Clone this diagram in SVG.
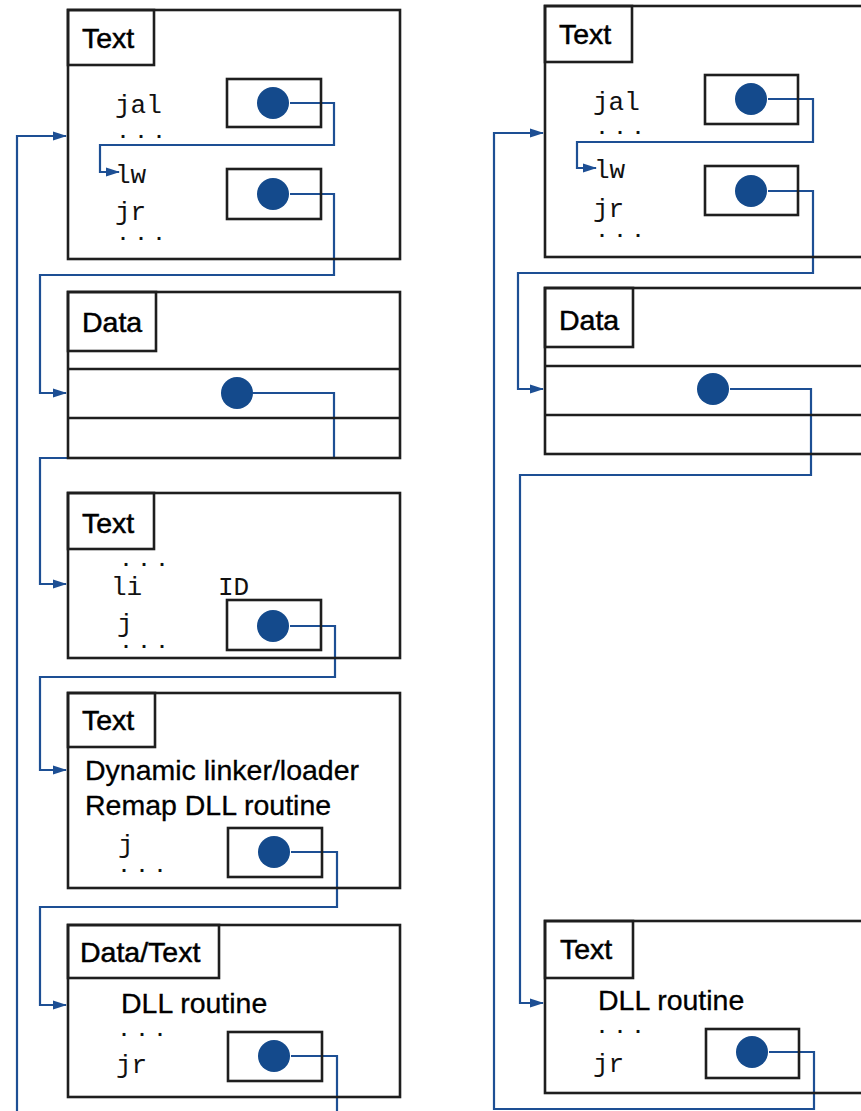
<svg xmlns="http://www.w3.org/2000/svg" width="861" height="1111" viewBox="0 0 861 1111">
<defs>
<style>
.box{fill:none;stroke:#1e1e1e;stroke-width:2.6}
.lbl{font-family:"Liberation Sans",Arial,sans-serif;font-size:28.5px;fill:#000;stroke:#000;stroke-width:0.5}
.txt{font-family:"Liberation Sans",Arial,sans-serif;font-size:28.5px;fill:#000;stroke:#000;stroke-width:0.3}
.code{font-family:"Liberation Mono","DejaVu Sans Mono",monospace;font-size:26px;fill:#111}
.dots{font-family:"Liberation Mono","DejaVu Sans Mono",monospace;font-size:20px;fill:#111;letter-spacing:6px;font-weight:bold}
.dot{fill:#144a8c}
.wire{fill:none;stroke:#1d4f94;stroke-width:2.2}
</style>
<marker id="ah" markerWidth="14" markerHeight="10" refX="13" refY="5" orient="auto" markerUnits="userSpaceOnUse">
<path d="M0,0.5 L14,5 L0,9.5 z" fill="#1d4f94"/>
</marker>
</defs>
<rect width="861" height="1111" fill="#fff"/>

<g id="connectors">
<path class="wire" d="M17,1111 V136 H66" marker-end="url(#ah)"/>
<path class="wire" d="M290,103 H334 V145 H100 V172 H119" marker-end="url(#ah)"/>
<path class="wire" d="M290,194 H334 V275 H40 V393 H66" marker-end="url(#ah)"/>
<path class="wire" d="M253,393 H334 V458 H40 V584 H66" marker-end="url(#ah)"/>
<path class="wire" d="M290,626 H335 V677 H40 V770 H66" marker-end="url(#ah)"/>
<path class="wire" d="M291,852 H337 V907 H40 V1005 H66" marker-end="url(#ah)"/>
<path class="wire" d="M291,1056 H337 V1111"/>
<path class="wire" d="M768,99 H813 V142 H577 V168 H596" marker-end="url(#ah)"/>
<path class="wire" d="M768,191 H813 V273 H518 V389 H543" marker-end="url(#ah)"/>
<path class="wire" d="M730,389 H811 V475 H520 V1003 H543" marker-end="url(#ah)"/>
<path class="wire" d="M769,1052 H814 V1109 H494 V133 H543" marker-end="url(#ah)"/>
</g>

<g id="L1">
<rect class="box" x="68" y="10" width="332" height="249"/>
<rect class="box" x="68" y="10" width="86" height="55"/>
<text class="lbl" x="82" y="48">Text</text>
<text class="code" x="115" y="113">jal</text>
<text class="dots" x="117" y="138">...</text>
<text class="code" x="115" y="183">lw</text>
<text class="code" x="115" y="220">jr</text>
<text class="dots" x="117" y="240">...</text>
<rect class="box" x="227" y="79" width="94" height="48"/>
<circle class="dot" cx="273" cy="103" r="16"/>
<rect class="box" x="227" y="169" width="94" height="50"/>
<circle class="dot" cx="273" cy="194" r="16"/>
</g>

<g id="L2">
<rect class="box" x="68" y="292" width="332" height="166"/>
<rect class="box" x="68" y="292" width="88" height="59"/>
<line class="box" x1="68" y1="369" x2="400" y2="369"/>
<line class="box" x1="68" y1="418" x2="400" y2="418"/>
<text class="lbl" x="82" y="332">Data</text>
<circle class="dot" cx="237" cy="393" r="16"/>
</g>

<g id="L3">
<rect class="box" x="68" y="493" width="332" height="165"/>
<rect class="box" x="68" y="493" width="86" height="56"/>
<text class="lbl" x="82" y="533">Text</text>
<text class="dots" x="120" y="566">...</text>
<text class="code" x="111" y="595">li</text>
<text class="code" x="218" y="595">ID</text>
<text class="code" x="117" y="632">j</text>
<text class="dots" x="120" y="648">...</text>
<rect class="box" x="227" y="600" width="94" height="50"/>
<circle class="dot" cx="273" cy="626" r="16"/>
</g>

<g id="L4">
<rect class="box" x="68" y="693" width="332" height="195"/>
<rect class="box" x="68" y="693" width="87" height="54"/>
<text class="lbl" x="82" y="730">Text</text>
<text class="txt" x="85" y="780">Dynamic linker/loader</text>
<text class="txt" x="85" y="815">Remap DLL routine</text>
<text class="code" x="118" y="853">j</text>
<text class="dots" x="118" y="872">...</text>
<rect class="box" x="228" y="828" width="94" height="49"/>
<circle class="dot" cx="274" cy="852" r="16"/>
</g>

<g id="L5">
<rect class="box" x="68" y="925" width="332" height="172"/>
<rect class="box" x="68" y="925" width="151" height="53"/>
<text class="lbl" x="80" y="962">Data/Text</text>
<text class="txt" x="121" y="1013">DLL routine</text>
<text class="dots" x="118" y="1036">...</text>
<text class="code" x="116" y="1073">jr</text>
<rect class="box" x="228" y="1032" width="94" height="49"/>
<circle class="dot" cx="274" cy="1056" r="16"/>
</g>

<g id="R1">
<rect class="box" x="545" y="6" width="360" height="251"/>
<rect class="box" x="545" y="6" width="87" height="56"/>
<text class="lbl" x="559" y="44">Text</text>
<text class="code" x="593" y="110">jal</text>
<text class="dots" x="596" y="134">...</text>
<text class="code" x="594" y="178">lw</text>
<text class="code" x="593" y="217">jr</text>
<text class="dots" x="596" y="237">...</text>
<rect class="box" x="705" y="75" width="93" height="49"/>
<circle class="dot" cx="751" cy="99" r="16"/>
<rect class="box" x="705" y="166" width="93" height="49"/>
<circle class="dot" cx="751" cy="191" r="16"/>
</g>

<g id="R2">
<rect class="box" x="545" y="288" width="360" height="166"/>
<rect class="box" x="545" y="288" width="88" height="59"/>
<line class="box" x1="545" y1="366" x2="905" y2="366"/>
<line class="box" x1="545" y1="415" x2="905" y2="415"/>
<text class="lbl" x="559" y="330">Data</text>
<circle class="dot" cx="713" cy="389" r="16"/>
</g>

<g id="R3">
<rect class="box" x="545" y="921" width="360" height="172"/>
<rect class="box" x="545" y="921" width="88" height="57"/>
<text class="lbl" x="560" y="959">Text</text>
<text class="txt" x="598" y="1010">DLL routine</text>
<text class="dots" x="596" y="1033">...</text>
<text class="code" x="593" y="1072">jr</text>
<rect class="box" x="706" y="1029" width="93" height="49"/>
<circle class="dot" cx="752" cy="1052" r="16"/>
</g>
</svg>
